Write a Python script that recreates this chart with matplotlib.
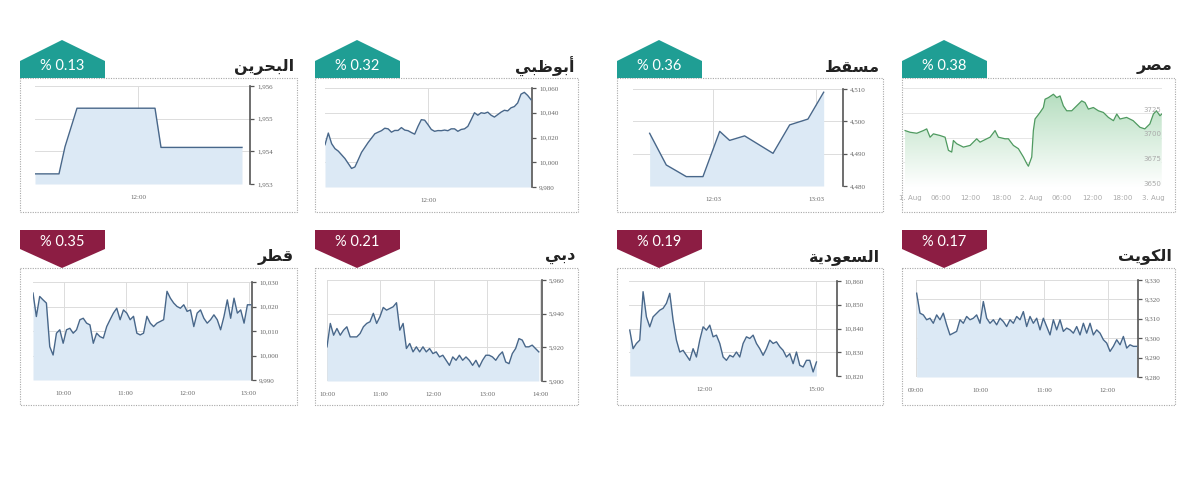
import matplotlib
matplotlib.use('Agg')
import matplotlib.pyplot as plt
from matplotlib.patches import Polygon, Rectangle
from matplotlib.colors import LinearSegmentedColormap
import numpy as np

W, H = 1200, 495

# ---------------- data ----------------
names = ['البحرين', 'أبوظبي', 'مسقط', 'مصر', 'قطر', 'دبي', 'السعودية', 'الكويت']
changes = ['% 0.13', '% 0.32', '% 0.36', '% 0.38', '% 0.35', '% 0.21', '% 0.19', '% 0.17']
is_up = [True, True, True, True, False, False, False, False]

bahrain_t = [10.97, 11.21, 11.27, 11.39, 12.17, 12.23, 13.04]
bahrain_v = [1953.31, 1953.31, 1954.14, 1955.32, 1955.32, 1954.12, 1954.12]
bahrain_yticks = [1953, 1954, 1955, 1956]
bahrain_xticks = [12.0]
bahrain_xlabels = ['12:00']

abudhabi_v = [10014.2, 10023.6, 10015.0, 10011.0, 10009.0, 10006.0, 10003.0, 9999.0, 9995.0, 9996.2,
              10002.0, 10008.0, 10012.0, 10016.0, 10019.5, 10023.0, 10024.3, 10025.5, 10027.5, 10027.0,
              10024.3, 10025.7, 10025.7, 10028.0, 10026.0, 10025.5, 10024.0, 10022.7, 10029.0, 10034.4,
              10034.0, 10030.4, 10026.5, 10025.0, 10025.6, 10025.5, 10026.0, 10025.5, 10027.0, 10027.0,
              10025.0, 10026.5, 10027.0, 10029.0, 10034.4, 10040.0, 10038.0, 10040.0, 10039.5, 10040.5,
              10038.0, 10036.5, 10038.5, 10040.5, 10042.0, 10041.5, 10044.0, 10045.0, 10047.9, 10055.0,
              10056.5, 10054.0, 10050.6]
abudhabi_span = (10.0, 14.0)
abudhabi_yticks = [9980, 10000, 10020, 10040, 10060]
abudhabi_xticks = [12.0]
abudhabi_xlabels = ['12:00']

muscat_t = [11.437, 11.598, 11.679, 11.792, 11.953, 12.115, 12.211, 12.356, 12.631, 12.792, 12.969, 13.121]
muscat_v = [4496.3, 4486.5, 4485.0, 4482.9, 4482.9, 4496.9, 4494.1, 4495.5, 4490.1, 4498.9, 4500.7, 4509.0]
muscat_yticks = [4480, 4490, 4500, 4510]
muscat_xticks = [12.05, 13.05]
muscat_xlabels = ['12:03', '13:03']

egypt_t = [-0.99, 0, 1.32, 2.63, 3.29, 3.95, 4.61, 5.93, 6.92, 7.58, 8.23, 8.56, 9.22, 10.54, 11.86,
           13.17, 13.83, 15.15, 15.81, 16.8, 17.45, 18.77, 19.43, 20.42, 21.41, 22.4, 23.06, 23.39,
           24.05, 24.37, 24.7, 25.69, 26.35, 26.68, 27.34, 28.33, 28.99, 29.64, 30.3, 30.96, 31.95,
           32.94, 33.93, 34.58, 35.24, 36.23, 37.22, 38.21, 39.2, 40.2, 40.86, 41.5, 42.8, 44.1,
           45.45, 46.4, 47.4, 48.1, 48.7, 49.4, 49.75]
egypt_v = [3707, 3705.3, 3704.3, 3707, 3708.7, 3700.3, 3703.7, 3702, 3700.3, 3687, 3685.3, 3697,
           3693.7, 3690.3, 3692, 3698.7, 3695.3, 3698.7, 3700.3, 3707, 3700.3, 3698.7, 3698.7, 3692,
           3688.7, 3680.3, 3673.7, 3671, 3680.3, 3707, 3718.7, 3725.3, 3730.3, 3738.7, 3740.3,
           3743.7, 3740.3, 3742, 3732, 3727, 3727, 3732, 3737, 3735.3, 3728.7, 3730.3, 3727, 3725.3,
           3720.3, 3717, 3723.7, 3718.7, 3720.3, 3717, 3710.3, 3708.7, 3713.7, 3723.7, 3727, 3722,
           3723.7]
egypt_yticks = [3650, 3675, 3700, 3725, 3750]
egypt_ylabels = ['3650', '3675', '3700', '3725', '']
egypt_xticks = [0, 6, 12, 18, 24, 30, 36, 42, 48]
egypt_xlabels = ['1. Aug', '06:00', '12:00', '18:00', '2. Aug', '06:00', '12:00', '18:00', '3. Aug']

qatar_v = [10025.5, 10015.9, 10024.1, 10022.7, 10021.4, 10003.6, 10000.2, 10009.1, 10010.5, 10005.0,
           10010.5, 10011.1, 10009.1, 10010.5, 10014.6, 10015.2, 10013.2, 10012.5, 10005.0, 10009.1,
           10007.7, 10007.1, 10011.8, 10014.6, 10017.3, 10019.3, 10014.6, 10018.6, 10017.3, 10014.6,
           10016.0, 10009.1, 10008.4, 10009.1, 10016.0, 10013.2, 10011.8, 10013.2, 10013.9, 10014.6,
           10026.2, 10023.4, 10021.4, 10020.0, 10019.3, 10020.7, 10018.0, 10018.6, 10011.8, 10017.3,
           10018.6, 10015.2, 10013.2, 10014.6, 10016.6, 10014.6, 10010.5, 10015.9, 10022.7, 10015.2,
           10023.4, 10017.3, 10018.6, 10013.2, 10020.7, 10020.7]
qatar_span = (9.5, 13.03)
qatar_yticks = [9990, 10000, 10010, 10020, 10030]
qatar_xticks = [10, 11, 12, 13]
qatar_xlabels = ['10:00', '11:00', '12:00', '13:00']

dubai_v = [5920.3, 5934.2, 5927.2, 5931.2, 5927.2, 5930.2, 5932.2, 5926.2, 5926.2, 5926.2,
           5928.2, 5932.2, 5934.2, 5935.2, 5940.2, 5934.2, 5938.2, 5943.7, 5942.1, 5943.1,
           5944.1, 5946.5, 5930.2, 5934.2, 5919.3, 5922.3, 5917.3, 5920.3, 5917.3, 5920.3,
           5917.3, 5919.3, 5916.3, 5917.3, 5914.3, 5915.3, 5912.3, 5909.3, 5914.3, 5912.3,
           5915.3, 5912.3, 5914.3, 5912.3, 5909.3, 5912.3, 5908.3, 5912.3, 5915.3, 5915.3,
           5914.3, 5912.3, 5915.3, 5917.3, 5911.3, 5910.3, 5916.3, 5919.3, 5925.2, 5924.3,
           5920.3, 5920.3, 5921.3, 5919.3, 5917.3]
dubai_span = (10.0, 13.97)
dubai_yticks = [5900, 5920, 5940, 5960]
dubai_xticks = [10, 11, 12, 13, 14]
dubai_xlabels = ['10:00', '11:00', '12:00', '13:00', '14:00']

saudi_v = [10839.3, 10831.5, 10833.7, 10835.1, 10855.5, 10844.9, 10840.7, 10844.9, 10846.3, 10847.7,
           10848.5, 10850.6, 10854.8, 10843.5, 10835.1, 10830.1, 10830.8, 10828.7, 10826.6, 10831.5,
           10828.0, 10835.1, 10840.7, 10839.3, 10841.4, 10836.5, 10837.2, 10833.7, 10828.0, 10826.6,
           10828.7, 10828.0, 10830.1, 10828.0, 10833.7, 10836.5, 10835.8, 10837.2, 10833.7, 10831.5,
           10828.7, 10831.5, 10835.1, 10833.7, 10834.4, 10832.3, 10830.8, 10828.0, 10829.4, 10825.2,
           10830.1, 10824.5, 10823.8, 10826.6, 10826.6, 10821.7, 10825.9]
saudi_span = (10.0, 15.0)
saudi_yticks = [10820, 10830, 10840, 10850, 10860]
saudi_xticks = [12, 15]
saudi_xlabels = ['12:00', '15:00']

kuwait_v = [9323.2, 9312.9, 9312.0, 9309.5, 9310.3, 9307.7, 9312.0, 9309.5, 9312.9, 9306.9,
            9301.7, 9302.6, 9303.5, 9309.5, 9307.7, 9311.2, 9309.5, 9310.3, 9312.0, 9307.7,
            9318.9, 9310.3, 9307.7, 9309.5, 9306.9, 9310.3, 9308.6, 9306.0, 9309.5, 9307.7,
            9311.2, 9309.5, 9313.7, 9306.0, 9311.2, 9307.7, 9310.3, 9304.3, 9310.3, 9306.0,
            9301.7, 9309.5, 9304.3, 9309.5, 9303.5, 9305.2, 9304.3, 9302.6, 9306.0, 9301.7,
            9307.7, 9302.6, 9307.7, 9301.7, 9304.3, 9302.6, 9299.2, 9297.5, 9293.2, 9295.8,
            9299.2, 9296.6, 9300.9, 9294.9, 9296.6, 9295.8, 9295.8]
kuwait_span = (9.01, 12.45)
kuwait_yticks = [9280, 9290, 9300, 9310, 9320, 9330]
kuwait_xticks = [9, 10, 11, 12]
kuwait_xlabels = ['09:00', '10:00', '11:00', '12:00']

# ---------------- arabic shaping (matplotlib has no bidi/shaping) ----------------
FORMS = {
    'ا': ('\uFE8D', '\uFE8E', None, None), 'أ': ('\uFE83', '\uFE84', None, None),
    'ب': ('\uFE8F', '\uFE90', '\uFE91', '\uFE92'), 'ة': ('\uFE93', '\uFE94', None, None),
    'ت': ('\uFE95', '\uFE96', '\uFE97', '\uFE98'), 'ح': ('\uFEA1', '\uFEA2', '\uFEA3', '\uFEA4'),
    'د': ('\uFEA9', '\uFEAA', None, None), 'ر': ('\uFEAD', '\uFEAE', None, None),
    'س': ('\uFEB1', '\uFEB2', '\uFEB3', '\uFEB4'), 'ص': ('\uFEB9', '\uFEBA', '\uFEBB', '\uFEBC'),
    'ط': ('\uFEC1', '\uFEC2', '\uFEC3', '\uFEC4'), 'ظ': ('\uFEC5', '\uFEC6', '\uFEC7', '\uFEC8'),
    'ع': ('\uFEC9', '\uFECA', '\uFECB', '\uFECC'), 'ق': ('\uFED5', '\uFED6', '\uFED7', '\uFED8'),
    'ك': ('\uFED9', '\uFEDA', '\uFEDB', '\uFEDC'), 'ل': ('\uFEDD', '\uFEDE', '\uFEDF', '\uFEE0'),
    'م': ('\uFEE1', '\uFEE2', '\uFEE3', '\uFEE4'), 'ن': ('\uFEE5', '\uFEE6', '\uFEE7', '\uFEE8'),
    'و': ('\uFEED', '\uFEEE', None, None), 'ي': ('\uFEF1', '\uFEF2', '\uFEF3', '\uFEF4'),
}


def shape(word):
    out = []
    for i, ch in enumerate(word):
        iso, fin, ini, med = FORMS[ch]
        prev_join = i > 0 and FORMS[word[i - 1]][2] is not None
        next_join = ini is not None and i < len(word) - 1
        if prev_join and next_join:
            out.append(med)
        elif prev_join:
            out.append(fin)
        elif next_join:
            out.append(ini)
        else:
            out.append(iso)
    return ''.join(reversed(out))


# ---------------- layout ----------------
LINE = '#48678a'
FILL = '#dce9f5'
GRID = '#dcdcdc'
TEAL = '#1f9e94'
RED = '#8c1d43'
LBL = dict(fontsize=5, color='#666666', family='Liberation Serif')

fig = plt.figure(figsize=(12, 4.95), dpi=100)
bg = fig.add_axes([0, 0, 1, 1])
bg.set_xlim(0, W)
bg.set_ylim(H, 0)
bg.axis('off')

frames_x = [(20, 297), (315, 578), (617, 883), (902, 1175)]
frames_y = [(78, 212), (268, 405)]


def px_axes(box):
    x0, y0, x1, y1 = box
    ax = fig.add_axes([x0 / W, 1 - y1 / H, (x1 - x0) / W, (y1 - y0) / H])
    ax.set_facecolor('none')
    return ax


def decor(i):
    col, row = i % 4, i // 4
    fx0, fx1 = frames_x[col]
    fy0, fy1 = frames_y[row]
    bg.add_patch(Rectangle((fx0, fy0), fx1 - fx0, fy1 - fy0, fill=False,
                           ec='#a8a8a8', lw=0.8, ls=(0, (1, 1.2))))
    bx0, bx1 = fx0, fx0 + 85
    tip = fx0 + 42
    if is_up[i]:
        pts = [(bx0, 78), (bx0, 61), (tip, 40), (bx1, 61), (bx1, 78)]
        bg.add_patch(Polygon(pts, closed=True, fc=TEAL, ec='none'))
        bg.text((bx0 + bx1) / 2, 66, changes[i], color='white', fontsize=10.5,
                family='Lato', ha='center', va='center')
        ty = 67
    else:
        pts = [(bx0, 230), (bx1, 230), (bx1, 249), (tip, 268), (bx0, 249)]
        bg.add_patch(Polygon(pts, closed=True, fc=RED, ec='none'))
        bg.text((bx0 + bx1) / 2, 242, changes[i], color='white', fontsize=10.5,
                family='Lato', ha='center', va='center')
        ty = 257
    bg.text(fx1 - 3, ty, shape(names[i]), color='#222222', fontsize=11.5,
            fontweight='bold', family='DejaVu Sans', ha='right', va='center')


def blue_panel(box, t, v, xlim, ylim, yticks, xticks, xlabels):
    ax = px_axes(box)
    ax.fill_between(t, v, ylim[0], color=FILL, lw=0, zorder=1)
    ax.plot(t, v, color=LINE, lw=1.0, zorder=3)
    ax.set_xlim(xlim)
    ax.set_ylim(ylim)
    ax.set_yticks(yticks)
    ax.set_yticklabels([f'{y:,.0f}' for y in yticks], **LBL)
    ax.set_xticks(xticks)
    ax.set_xticklabels(xlabels, **LBL)
    ax.yaxis.tick_right()
    ax.grid(True, color=GRID, lw=0.7)
    ax.set_axisbelow(True)
    for s in ['left', 'top', 'bottom']:
        ax.spines[s].set_visible(False)
    ax.spines['right'].set_color('#555555')
    ax.spines['right'].set_linewidth(1.2)
    ax.tick_params(axis='y', length=3, width=0.9, color='#555555', pad=2)
    ax.tick_params(axis='x', length=0, pad=8)
    return ax


for i in range(8):
    decor(i)

blue_panel((35, 86, 250, 184), bahrain_t, bahrain_v, (10.97, 13.12), (1953, 1956),
           bahrain_yticks, bahrain_xticks, bahrain_xlabels)
blue_panel((325, 88, 532, 187), np.linspace(*abudhabi_span, len(abudhabi_v)), abudhabi_v,
           (10.0, 14.02), (9980, 10060), abudhabi_yticks, abudhabi_xticks, abudhabi_xlabels)
blue_panel((633, 89, 843, 186), muscat_t, muscat_v, (11.276, 13.308), (4480, 4510),
           muscat_yticks, muscat_xticks, muscat_xlabels)
blue_panel((33, 282, 252, 380), np.linspace(*qatar_span, len(qatar_v)), qatar_v,
           (9.5, 13.05), (9990, 10030), qatar_yticks, qatar_xticks, qatar_xlabels)
blue_panel((327, 280, 542, 381), np.linspace(*dubai_span, len(dubai_v)), dubai_v,
           (10.0, 14.03), (5900, 5960), dubai_yticks, dubai_xticks, dubai_xlabels)
blue_panel((629, 281, 837, 376), np.linspace(*saudi_span, len(saudi_v)), saudi_v,
           (9.98, 15.55), (10820, 10860), saudi_yticks, saudi_xticks, saudi_xlabels)
blue_panel((916, 280, 1138, 377), np.linspace(*kuwait_span, len(kuwait_v)), kuwait_v,
           (9.0, 12.47), (9280, 9330), kuwait_yticks, kuwait_xticks, kuwait_xlabels)

# Egypt: green area with gradient, labels inside the plot
ax = px_axes((903, 88, 1162, 187))
area = ax.fill_between(egypt_t, egypt_v, 3650, color='none', lw=0)
cmap = LinearSegmentedColormap.from_list('g', ['#ffffff', '#b6dec0'])
img = ax.imshow(np.linspace(0, 1, 256).reshape(-1, 1), cmap=cmap, aspect='auto', origin='lower',
                extent=[min(egypt_t), max(egypt_t), 3650, max(egypt_v)], zorder=1)
img.set_clip_path(area.get_paths()[0], transform=ax.transData)
ax.plot(egypt_t, egypt_v, color='#4f9a60', lw=0.9, zorder=3)
ax.set_xlim(-1.4, 49.8)
ax.set_ylim(3650, 3750)
ax.set_yticks(egypt_yticks)
ax.set_yticklabels([])
ax.set_xticks(egypt_xticks)
ax.set_xticklabels(egypt_xlabels, fontsize=5, color='#aaaaaa')
ax.grid(True, axis='y', color='#e6e6e6', lw=0.7)
ax.set_axisbelow(True)
for s in ax.spines.values():
    s.set_visible(False)
ax.tick_params(axis='both', length=0)
ax.tick_params(axis='x', pad=6)
for y, lab in zip(egypt_yticks, egypt_ylabels):
    ax.text(0.998, y, lab, transform=ax.get_yaxis_transform(), ha='right', va='bottom',
            fontsize=5, color='#aaaaaa')

fig.savefig('out.png', dpi=100)
